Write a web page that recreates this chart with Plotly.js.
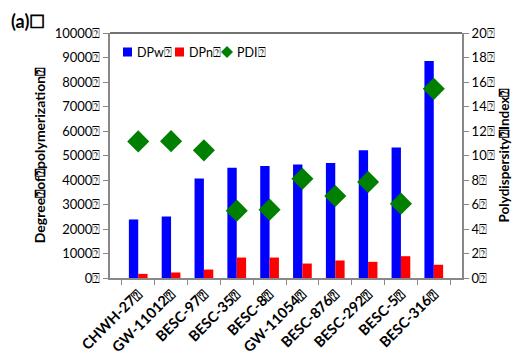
<!DOCTYPE html>
<html>
<head>
<meta charset="utf-8">
<script src="https://cdn.plot.ly/plotly-3.0.1.min.js"></script>
<style>html,body{margin:0;padding:0;background:#fff;}#chart{width:522px;height:356px;}</style>
</head>
<body>
<div id="chart"></div>
<script>
// Sample lines and their degree-of-polymerization measurements
const categories = ["CHWH-27⍰", "GW-11012⍰", "BESC-97⍰", "BESC-35⍰", "BESC-8⍰",
                    "GW-11054⍰", "BESC-876⍰", "BESC-292⍰", "BESC-5⍰", "BESC-316⍰"];
const dpw = [2390, 2510, 4060, 4500, 4570, 4630, 4690, 5210, 5330, 8860];
const dpn = [170, 225, 345, 835, 835, 590, 715, 660, 890, 540];
const pdi = [11.15, 11.17, 10.42, 5.5, 5.58, 8.1, 6.7, 7.84, 6.07, 15.44];
const leftTicks = [0, 1000, 2000, 3000, 4000, 5000, 6000, 7000, 8000, 9000, 10000];
const rightTicks = [0, 2, 4, 6, 8, 10, 12, 14, 16, 18, 20];
const seriesNames = ["DPw⍰", "DPn⍰", "PDI⍰"];
const seriesColors = ["#0000ff", "#ff0000", "#008000"];

const FONT = "Lato, 'Open Sans', sans-serif";
const W = 522, H = 356;
const M = {l: 110, r: 60, t: 33, b: 78};
const PW = W - M.l - M.r, PH = H - M.t - M.b;
// pixel position -> paper coordinates (for the compact in-plot key)
const px = x => (x - M.l) / PW;
const py = y => (H - M.b - y) / PH;

const traces = [
  {type: "bar", name: seriesNames[0], x: categories, y: dpw, marker: {color: seriesColors[0]}},
  {type: "bar", name: seriesNames[1], x: categories, y: dpn, marker: {color: seriesColors[1]}},
  {type: "scatter", mode: "markers", name: seriesNames[2], x: categories, y: pdi, yaxis: "y2",
   marker: {symbol: "diamond", size: 17, color: seriesColors[2], line: {width: 0}}}
];

// Compact key drawn inside the plot area, top-left
const keyY = 52;
const keyShapes = [
  {type: "rect", xref: "paper", yref: "paper", x0: px(123), x1: px(132), y0: py(keyY + 4.5), y1: py(keyY - 4.5),
   fillcolor: seriesColors[0], line: {width: 0}},
  {type: "rect", xref: "paper", yref: "paper", x0: px(175), x1: px(184), y0: py(keyY + 4.5), y1: py(keyY - 4.5),
   fillcolor: seriesColors[1], line: {width: 0}},
  {type: "path", xref: "paper", yref: "paper",
   path: `M ${px(227)} ${py(keyY - 6)} L ${px(233)} ${py(keyY)} L ${px(227)} ${py(keyY + 6)} L ${px(221)} ${py(keyY)} Z`,
   fillcolor: seriesColors[2], line: {width: 0}}
];
const keyText = [[135, seriesNames[0]], [187, seriesNames[1]], [235, seriesNames[2]]].map(([x, t]) => ({
  text: t, xref: "paper", yref: "paper", x: px(x), y: py(keyY), xanchor: "left", yanchor: "middle",
  showarrow: false, font: {family: FONT, size: 12.5, color: "#000"}
}));

const layout = {
  width: W, height: H,
  margin: M,
  paper_bgcolor: "#fff", plot_bgcolor: "#fff",
  barmode: "group", bargap: 0.43, bargroupgap: 0,
  showlegend: false,
  font: {family: FONT, color: "#000"},
  xaxis: {
    type: "category", tickson: "boundaries", ticks: "outside", ticklen: 5,
    tickcolor: "#888", showline: true, linecolor: "#888", linewidth: 2,
    tickangle: -45, tickfont: {family: FONT, size: 14.5, color: "#000", weight: "bold"},
    showgrid: false, zeroline: false
  },
  yaxis: {
    range: [0, 10000], tickvals: leftTicks, ticktext: leftTicks.map(v => v + "⍰"),
    ticks: "outside", ticklen: 5, tickcolor: "#888", showline: true, linecolor: "#888",
    linewidth: 2, showgrid: false, zeroline: false,
    tickfont: {family: FONT, size: 13, color: "#000"},
    title: {text: "Degree⍰of⍰polymerization⍰", standoff: 6,
            font: {family: FONT, size: 14, color: "#000", weight: "bold"}}
  },
  yaxis2: {
    overlaying: "y", side: "right", range: [0, 20], tickvals: rightTicks,
    ticktext: rightTicks.map(v => v + "⍰"), ticks: "outside", ticklen: 5,
    tickcolor: "#888", showline: true, linecolor: "#888", linewidth: 2,
    showgrid: false, zeroline: false,
    tickfont: {family: FONT, size: 13, color: "#000"},
    title: {text: "Polydispersity⍰Index⍰", standoff: 6,
            font: {family: FONT, size: 13.5, color: "#000", weight: "bold"}}
  },
  shapes: [
    {type: "line", xref: "paper", yref: "paper", x0: 0, x1: 1, y0: 1, y1: 1,
     line: {color: "#444", width: 1.5}}
  ].concat(keyShapes),
  annotations: [
    {text: "(a)☐", xref: "paper", yref: "paper", x: px(9), y: py(34), xanchor: "left",
     yanchor: "bottom", showarrow: false,
     font: {family: FONT, size: 18, color: "#000", weight: "bold"}}
  ].concat(keyText)
};

Plotly.newPlot("chart", traces, layout, {displayModeBar: false, staticPlot: true});
</script>
</body>
</html>
